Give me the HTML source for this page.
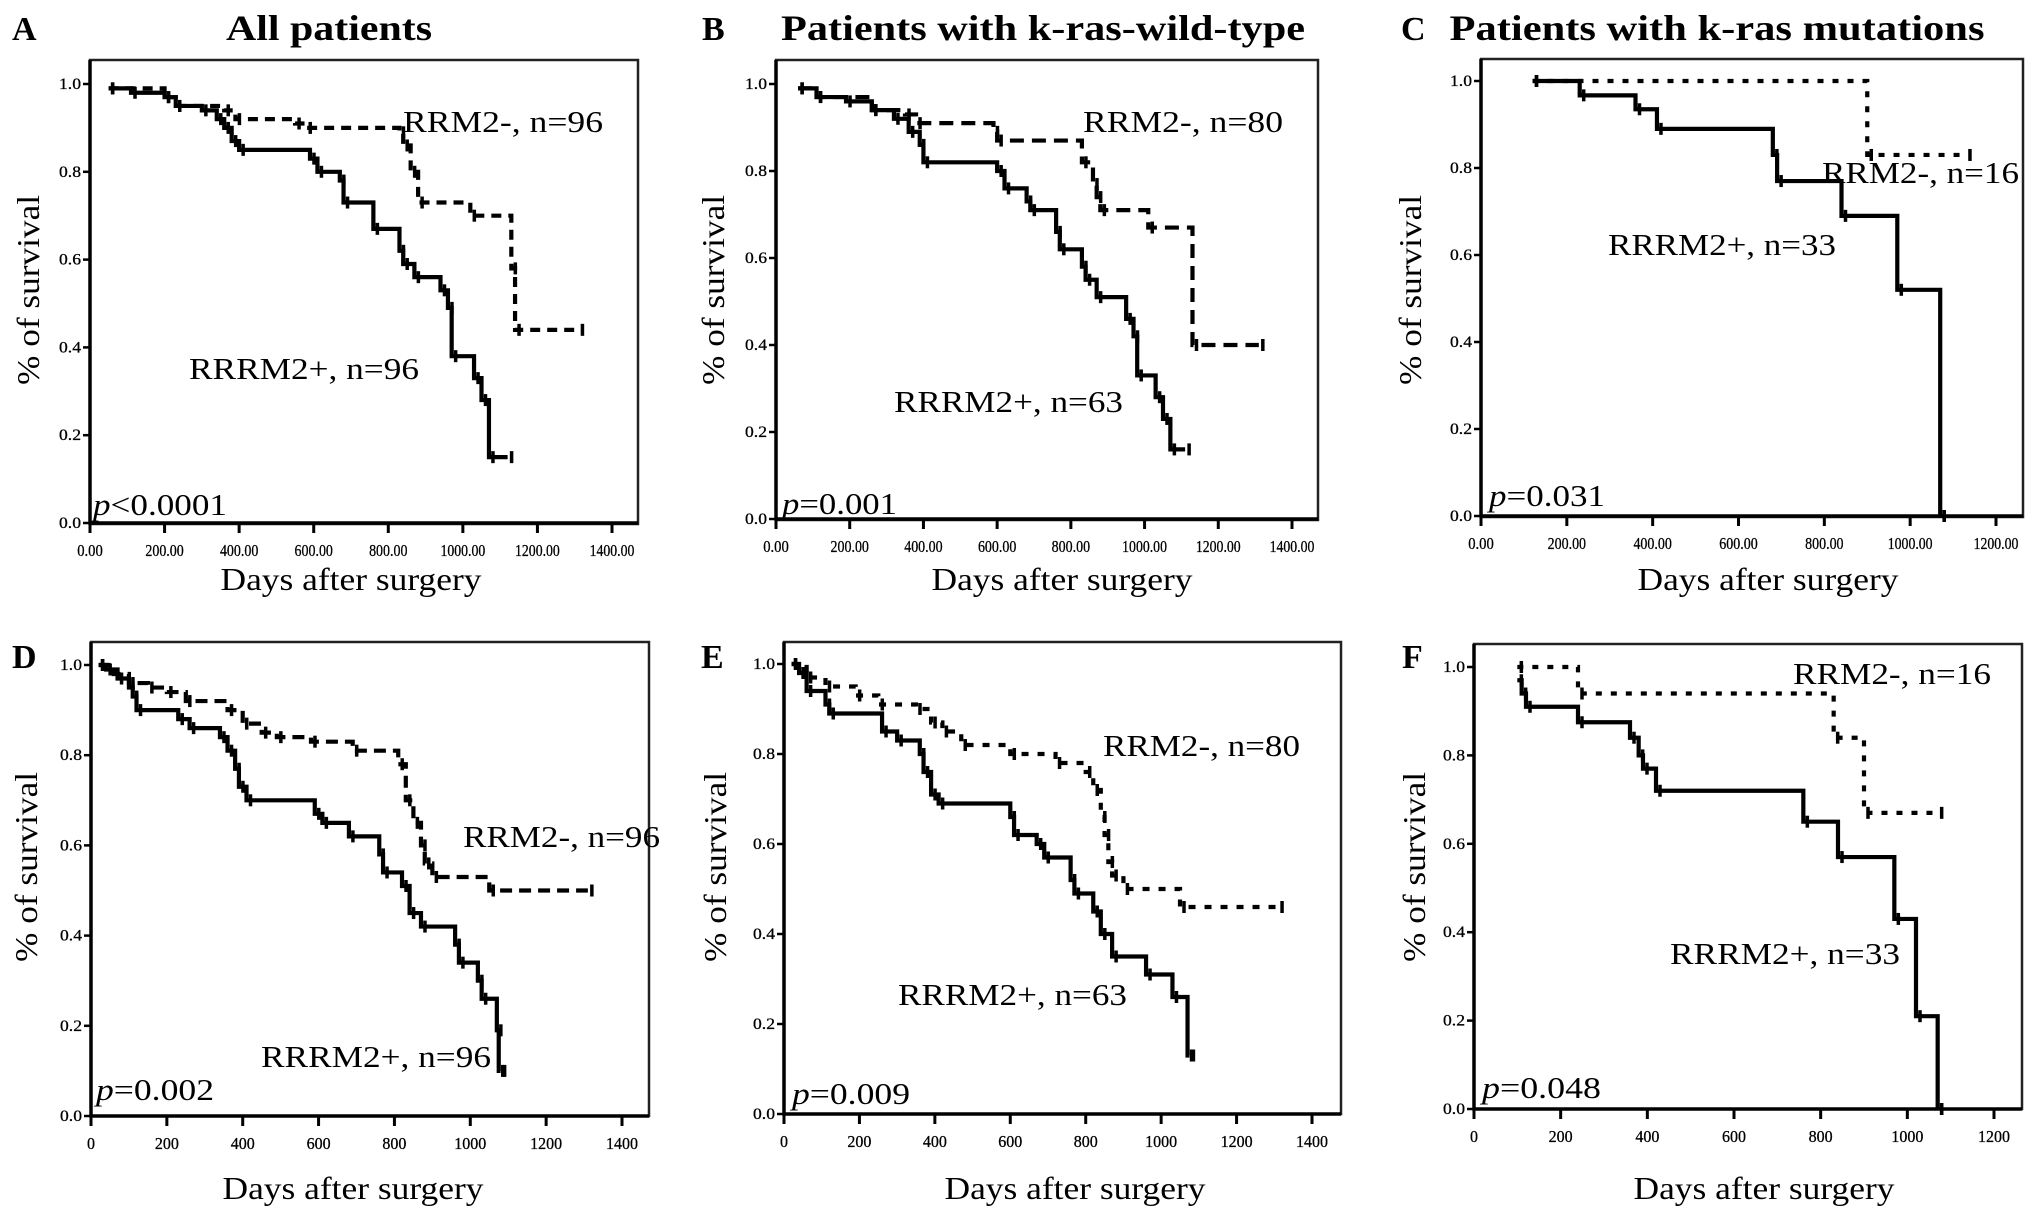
<!DOCTYPE html>
<html><head><meta charset="utf-8"><style>
html,body{margin:0;padding:0;background:#fff;}
svg{display:block;font-family:"Liberation Serif",serif;}
</style></head><body>
<svg id="fig" width="2031" height="1217" viewBox="0 0 2031 1217"></svg>
<script>
// ---- data (days, survival) ----
const aPosT=[50,110,200,230,300,340,360,380,400,590,610,670,680,760,830,840,870,940,960,970,1030,1050,1070,1120];
const aPosS=[0.99,0.98,0.97,0.95,0.94,0.92,0.90,0.87,0.85,0.83,0.80,0.78,0.73,0.67,0.62,0.59,0.56,0.53,0.49,0.38,0.33,0.28,0.15,0.15];
const aNegT=[50,200,230,360,390,550,580,830,840,860,880,1020,1130,1140,1310];
const aNegS=[0.99,0.97,0.95,0.94,0.92,0.91,0.90,0.89,0.86,0.80,0.73,0.70,0.58,0.44,0.44];
const bPosT=[60,110,190,260,320,360,390,400,600,620,680,690,760,770,830,840,870,950,970,980,1030,1050,1070,1110];
const bPosS=[0.99,0.97,0.96,0.94,0.92,0.89,0.86,0.82,0.80,0.76,0.73,0.71,0.66,0.62,0.58,0.55,0.51,0.46,0.42,0.33,0.28,0.23,0.16,0.16];
const bNegT=[60,110,260,350,380,590,600,830,860,870,880,1010,1130,1310];
const bNegS=[0.99,0.97,0.94,0.93,0.91,0.89,0.87,0.82,0.77,0.74,0.71,0.67,0.40,0.40];
const cPosT=[120,230,360,410,680,690,840,970,1070,1070];
const cPosS=[1.0,0.967,0.935,0.89,0.83,0.77,0.69,0.52,0.0,0.0];
const cNegT=[120,900,1130];
const cNegS=[1.0,0.83,0.83];
const dPosT=[20,40,70,100,110,120,230,260,340,360,380,390,410,590,610,680,760,770,820,840,870,960,970,1020,1030,1070,1075,1080];
const dPosS=[1.0,0.99,0.97,0.95,0.93,0.90,0.88,0.86,0.84,0.81,0.77,0.73,0.70,0.67,0.65,0.62,0.58,0.54,0.51,0.45,0.42,0.38,0.34,0.30,0.26,0.19,0.10,0.10];
const dNegT=[20,60,100,150,200,250,360,400,450,490,580,690,810,830,850,870,880,900,1050,1310];
const dNegS=[1.0,0.98,0.96,0.95,0.94,0.92,0.90,0.87,0.85,0.84,0.83,0.81,0.78,0.70,0.65,0.60,0.56,0.53,0.50,0.50];
const ePosT=[20,40,60,110,120,260,300,360,370,390,410,600,610,670,690,760,770,820,840,870,960,1030,1070,1075];
const ePosS=[1.0,0.98,0.94,0.91,0.89,0.85,0.83,0.80,0.76,0.71,0.69,0.66,0.62,0.60,0.57,0.52,0.49,0.45,0.40,0.35,0.31,0.26,0.13,0.13];
const eNegT=[20,60,110,190,250,350,390,420,470,600,720,800,820,840,850,860,870,900,1050,1310];
const eNegS=[1.0,0.97,0.95,0.93,0.91,0.90,0.87,0.85,0.82,0.80,0.78,0.76,0.72,0.66,0.62,0.56,0.53,0.50,0.46,0.46];
const fPosT=[100,110,120,240,360,380,390,420,760,840,970,1020,1070,1070];
const fPosS=[0.97,0.94,0.91,0.875,0.84,0.80,0.77,0.72,0.65,0.57,0.43,0.21,0.0,0.0];
const fNegT=[100,240,830,900,1070];
const fNegS=[1.0,0.94,0.84,0.67,0.67];
const yTicks=[0,0.2,0.4,0.6,0.8,1.0];
const yTickLabels=["0.0","0.2","0.4","0.6","0.8","1.0"];
const xTicks14=[0,200,400,600,800,1000,1200,1400];
const xTicks12=[0,200,400,600,800,1000,1200];

const NS="http://www.w3.org/2000/svg";
const svg=document.getElementById('fig');
function mk(tag,attrs,parent,text){const e=document.createElementNS(NS,tag);for(const k in attrs)e.setAttribute(k,attrs[k]);if(text!==undefined)e.textContent=text;(parent||svg).appendChild(e);return e;}

const panels=[
 {id:'a',L:90,T:60,R:638,B:524,x0:90,xm:612,xmax:1400,y1:84,y0:523,ticks:xTicks14,dec:true,
  letter:['A',12,40],title:['All patients',329,40,206],neg:['RRM2-, n=96',403,132,200],pos:['RRRM2+, n=96',189,379,230],
  p:['<0.0001',93,515,134],xl:[351,590],yl:[28,290],pt:aPosT,ps:aPosS,nt:aNegT,ns:aNegS,dash:'10,7'},
 {id:'b',L:776,T:60,R:1318,B:520,x0:776,xm:1292,xmax:1400,y1:84,y0:519,ticks:xTicks14,dec:true,
  letter:['B',702,40],title:['Patients with k-ras-wild-type',1043,40,524],neg:['RRM2-, n=80',1083,132,200],pos:['RRRM2+, n=63',894,412,229],
  p:['=0.001',782,514,115],xl:[1062,590],yl:[713,290],pt:bPosT,ps:bPosS,nt:bNegT,ns:bNegS,dash:'14,8'},
 {id:'c',L:1481,T:59,R:2023,B:517,x0:1481,xm:1996,xmax:1200,y1:81,y0:516,ticks:xTicks12,dec:true,
  letter:['C',1401,40],title:['Patients with k-ras mutations',1717,40,535],neg:['RRM2-, n=16',1822,183,197],pos:['RRRM2+, n=33',1608,255,228],
  p:['=0.031',1489,506,116],xl:[1768,590],yl:[1410,290],pt:cPosT,ps:cPosS,nt:cNegT,ns:cNegS,dash:'6,9'},
 {id:'d',L:91,T:642,R:649,B:1116,x0:91,xm:622,xmax:1400,y1:665,y0:1116,ticks:xTicks14,dec:false,
  letter:['D',12,668],neg:['RRM2-, n=96',463,847,197],pos:['RRRM2+, n=96',261,1067,230],
  p:['=0.002',96,1100,118],xl:[353,1199],yl:[26,867],pt:dPosT,ps:dPosS,nt:dNegT,ns:dNegS,dash:'12,7'},
 {id:'e',L:784,T:642,R:1341,B:1114,x0:784,xm:1312,xmax:1400,y1:664,y0:1114,ticks:xTicks14,dec:false,
  letter:['E',701,668],neg:['RRM2-, n=80',1103,756,197],pos:['RRRM2+, n=63',898,1005,229],
  p:['=0.009',792,1104,118],xl:[1075,1199],yl:[715,867],pt:ePosT,ps:ePosS,nt:eNegT,ns:eNegS,dash:'7,9'},
 {id:'f',L:1474,T:644,R:2022,B:1109,x0:1474,xm:1994,xmax:1200,y1:667,y0:1109,ticks:xTicks12,dec:false,
  letter:['F',1402,668],neg:['RRM2-, n=16',1793,684,198],pos:['RRRM2+, n=33',1670,964,230],
  p:['=0.048',1482,1098,119],xl:[1764,1199],yl:[1414,867],pt:fPosT,ps:fPosS,nt:fNegT,ns:fNegS,dash:'6,9'}
];

function stepPath(T,S,xs,ys){
  let d='M'+xs(T[0])+','+ys(S[0]);
  for(let i=1;i<T.length;i++){d+=' H'+xs(T[i])+' V'+ys(S[i]);}
  return d;
}

panels.forEach(P=>{
  const g=mk('g',{},svg);
  
  
  const xs=v=>P.x0+(P.xm-P.x0)*v/P.xmax;
  const ys=v=>P.y0+(P.y1-P.y0)*v;
  const box=mk('rect',{x:P.L,y:P.T,width:P.R-P.L,height:P.B-P.T,fill:'none',stroke:'#222',"stroke-width":2.5},g);
  
  
  const ax=mk('path',{d:'M'+P.L+','+P.T+' V'+P.y0+' H'+P.R,fill:'none',stroke:'#000',"stroke-width":3.5},g);
  
  
  yTicks.forEach((v,i)=>{
    mk('line',{x1:P.L-7,x2:P.L,y1:ys(v),y2:ys(v),stroke:'#000',"stroke-width":2.5},g);
    const t=mk('text',{x:P.L-9,y:ys(v)+5,"text-anchor":'end',"font-size":16,"stroke":"#000","stroke-width":0.3,textLength:22,lengthAdjust:'spacingAndGlyphs'},g,yTickLabels[i]);
    
    
  });
  P.ticks.forEach(v=>{
    mk('line',{x1:xs(v),x2:xs(v),y1:P.y0,y2:P.y0+10,stroke:'#000',"stroke-width":3},g);
    const lab=P.dec?(v.toFixed(2)):String(v);
    const w=P.dec?(lab.length*6.4):(lab.length*8);
    const t=mk('text',{x:xs(v),y:P.y0+33,"text-anchor":'middle',"font-size":17,"stroke":"#000","stroke-width":0.3,textLength:w,lengthAdjust:'spacingAndGlyphs'},g,lab);
    
    
  });
  const neg=mk('path',{d:stepPath(P.nt,P.ns,xs,ys),fill:'none',stroke:'#000',"stroke-width":4.2,"stroke-dasharray":P.dash},g);
  
  
  const pos=mk('path',{d:stepPath(P.pt,P.ps,xs,ys),fill:'none',stroke:'#000',"stroke-width":4.2},g);
  
  
  [[P.pt,P.ps],[P.nt,P.ns]].forEach(([T,S])=>{
    for(let i=0;i<T.length;i++){
      const c=mk('path',{d:'M'+(xs(T[i])+4)+','+(ys(S[i])-6)+' v12',stroke:'#000',"stroke-width":3.5},g);
      
      
    }
  });
  const le=mk('text',{x:P.letter[1],y:P.letter[2],"font-size":34,"font-weight":'bold'},g,P.letter[0]);
  
  
  if(P.title){
    const ti=mk('text',{x:P.title[1],y:P.title[2],"text-anchor":'middle',"font-size":36,"font-weight":'bold',textLength:P.title[3],lengthAdjust:'spacingAndGlyphs'},g,P.title[0]);
    
    
  }
  const n1=mk('text',{x:P.neg[1],y:P.neg[2],"font-size":31,textLength:P.neg[3],lengthAdjust:'spacingAndGlyphs'},g,P.neg[0]);
  
  
  const n2=mk('text',{x:P.pos[1],y:P.pos[2],"font-size":31,textLength:P.pos[3],lengthAdjust:'spacingAndGlyphs'},g,P.pos[0]);
  
  
  const pv=mk('text',{x:P.p[1],y:P.p[2],"font-size":31,textLength:P.p[3],lengthAdjust:'spacingAndGlyphs'},g);
  
  
  mk('tspan',{"font-style":'italic'},pv,'p');
  mk('tspan',{},pv,P.p[0]);
  const xl=mk('text',{x:P.xl[0],y:P.xl[1],"text-anchor":'middle',"font-size":32,textLength:261,lengthAdjust:'spacingAndGlyphs'},g,'Days after surgery');
  
  
  const yl=mk('text',{x:0,y:0,"text-anchor":'middle',"font-size":32,textLength:190,lengthAdjust:'spacingAndGlyphs',transform:'translate('+(P.yl[0]+11)+','+P.yl[1]+') rotate(-90)'},g,'% of survival');
  
  
});
</script>
</body></html>
